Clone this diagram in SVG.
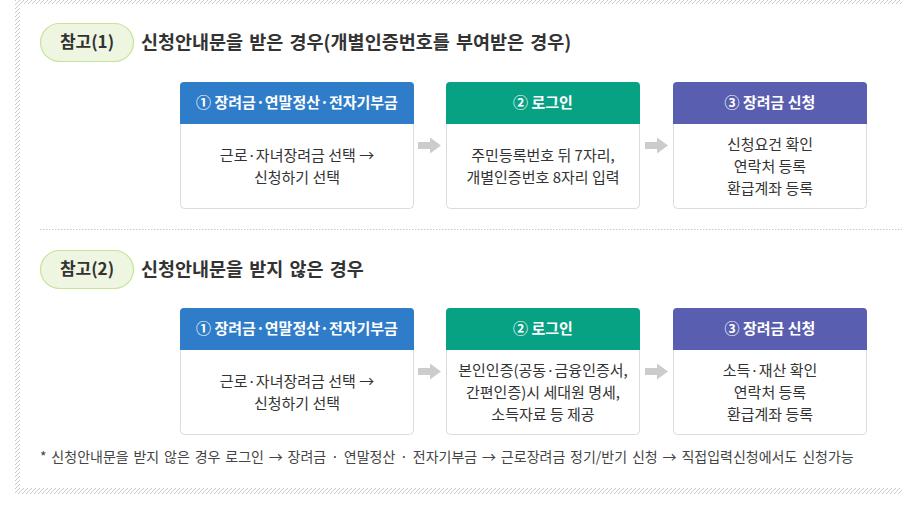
<svg xmlns="http://www.w3.org/2000/svg" width="902" height="505" viewBox="0 0 902 505">
<defs>
<pattern id="hatch" width="4" height="4" patternUnits="userSpaceOnUse">
<path d="M-1,5 L5,-1" stroke="#c9cad2" stroke-width="1"/>
</pattern>
<g id="arr"><path d="M0,-3.5 H12 V-8 L23,0 L12,8 V3.5 H0 Z" fill="#cccccc"/></g>
</defs>
<style>
text{font-family:"Noto Sans CJK KR","Noto Sans",sans-serif;}
.pill{fill:#eef6e2;stroke:#c6e495;stroke-width:1.2;}
.pt{font-size:17px;font-weight:bold;fill:#333;text-anchor:middle;}
.ttl{font-size:18.5px;font-weight:bold;fill:#333;word-spacing:2px;}
.body{fill:#fff;stroke:#dcdcdc;stroke-width:1;}
.ht{font-size:15px;font-weight:bold;fill:#fff;text-anchor:middle;}
.bt{font-size:15px;fill:#333;text-anchor:middle;}
.blue{fill:#2f7dc8;}
.green{fill:#07a284;}
.purple{fill:#5a5eb0;}
.note{font-size:14px;fill:#444;word-spacing:1.7px;}
</style>
<rect x="0" y="0" width="902" height="505" fill="#fff"/>
<rect x="15" y="0" width="887" height="494" fill="url(#hatch)"/>
<rect x="20" y="4" width="882" height="484" fill="#fff"/>
<line x1="40" y1="229.5" x2="902" y2="229.5" stroke="#c8c8c8" stroke-width="1" stroke-dasharray="1.5,1.5"/>

<g id="sec1-label">
<rect class="pill" x="40.5" y="23.5" width="93" height="38" rx="19"/>
<text class="pt" x="87" y="48">참고(1)</text>
<text class="ttl" x="141" y="49">신청안내문을 받은 경우(개별인증번호를 부여받은 경우)</text>
</g>

<g id="s1-step1">
<rect class="body" x="180.5" y="82.5" width="233" height="126" rx="4"/>
<path class="blue" d="M180,86 a4,4 0 0 1 4,-4 H410 a4,4 0 0 1 4,4 V124 H180 Z"/>
<text class="ht" x="297" y="108">① 장려금·연말정산·전자기부금</text>
<text class="bt" x="297" y="161">근로·자녀장려금 선택 →</text>
<text class="bt" x="297" y="183">신청하기 선택</text>
</g>
<g id="s1-step2">
<rect class="body" x="446.5" y="82.5" width="193" height="126" rx="4"/>
<path class="green" d="M446,86 a4,4 0 0 1 4,-4 H636 a4,4 0 0 1 4,4 V124 H446 Z"/>
<text class="ht" x="543" y="108">② 로그인</text>
<text class="bt" x="543" y="161">주민등록번호 뒤 7자리,</text>
<text class="bt" x="543" y="183">개별인증번호 8자리 입력</text>
</g>
<g id="s1-step3">
<rect class="body" x="673.5" y="82.5" width="193" height="126" rx="4"/>
<path class="purple" d="M673,86 a4,4 0 0 1 4,-4 H863 a4,4 0 0 1 4,4 V124 H673 Z"/>
<text class="ht" x="770" y="108">③ 장려금 신청</text>
<text class="bt" x="770" y="150">신청요건 확인</text>
<text class="bt" x="770" y="172">연락처 등록</text>
<text class="bt" x="770" y="194">환급계좌 등록</text>
</g>

<g id="sec2-label">
<rect class="pill" x="40.5" y="250.5" width="93" height="38" rx="19"/>
<text class="pt" x="87" y="275">참고(2)</text>
<text class="ttl" x="141" y="276">신청안내문을 받지 않은 경우</text>
</g>

<g id="s2-step1">
<rect class="body" x="180.5" y="308.5" width="233" height="126" rx="4"/>
<path class="blue" d="M180,312 a4,4 0 0 1 4,-4 H410 a4,4 0 0 1 4,4 V350 H180 Z"/>
<text class="ht" x="297" y="334">① 장려금·연말정산·전자기부금</text>
<text class="bt" x="297" y="387">근로·자녀장려금 선택 →</text>
<text class="bt" x="297" y="409">신청하기 선택</text>
</g>
<g id="s2-step2">
<rect class="body" x="446.5" y="308.5" width="193" height="126" rx="4"/>
<path class="green" d="M446,312 a4,4 0 0 1 4,-4 H636 a4,4 0 0 1 4,4 V350 H446 Z"/>
<text class="ht" x="543" y="334">② 로그인</text>
<text class="bt" x="543" y="376">본인인증(공동·금융인증서,</text>
<text class="bt" x="543" y="398">간편인증)시 세대원 명세,</text>
<text class="bt" x="543" y="420">소득자료 등 제공</text>
</g>
<g id="s2-step3">
<rect class="body" x="673.5" y="308.5" width="193" height="126" rx="4"/>
<path class="purple" d="M673,312 a4,4 0 0 1 4,-4 H863 a4,4 0 0 1 4,4 V350 H673 Z"/>
<text class="ht" x="770" y="334">③ 장려금 신청</text>
<text class="bt" x="770" y="376">소득·재산 확인</text>
<text class="bt" x="770" y="398">연락처 등록</text>
<text class="bt" x="770" y="420">환급계좌 등록</text>
</g>

<g id="connectors">
<use href="#arr" x="418" y="145.5"/>
<use href="#arr" x="645" y="145.5"/>
<use href="#arr" x="418" y="371.5"/>
<use href="#arr" x="645" y="371.5"/>
</g>

<text class="note" x="40" y="462">* 신청안내문을 받지 않은 경우 로그인 → 장려금 · 연말정산 · 전자기부금 → 근로장려금 정기/반기 신청 → 직접입력신청에서도 신청가능</text>
</svg>
